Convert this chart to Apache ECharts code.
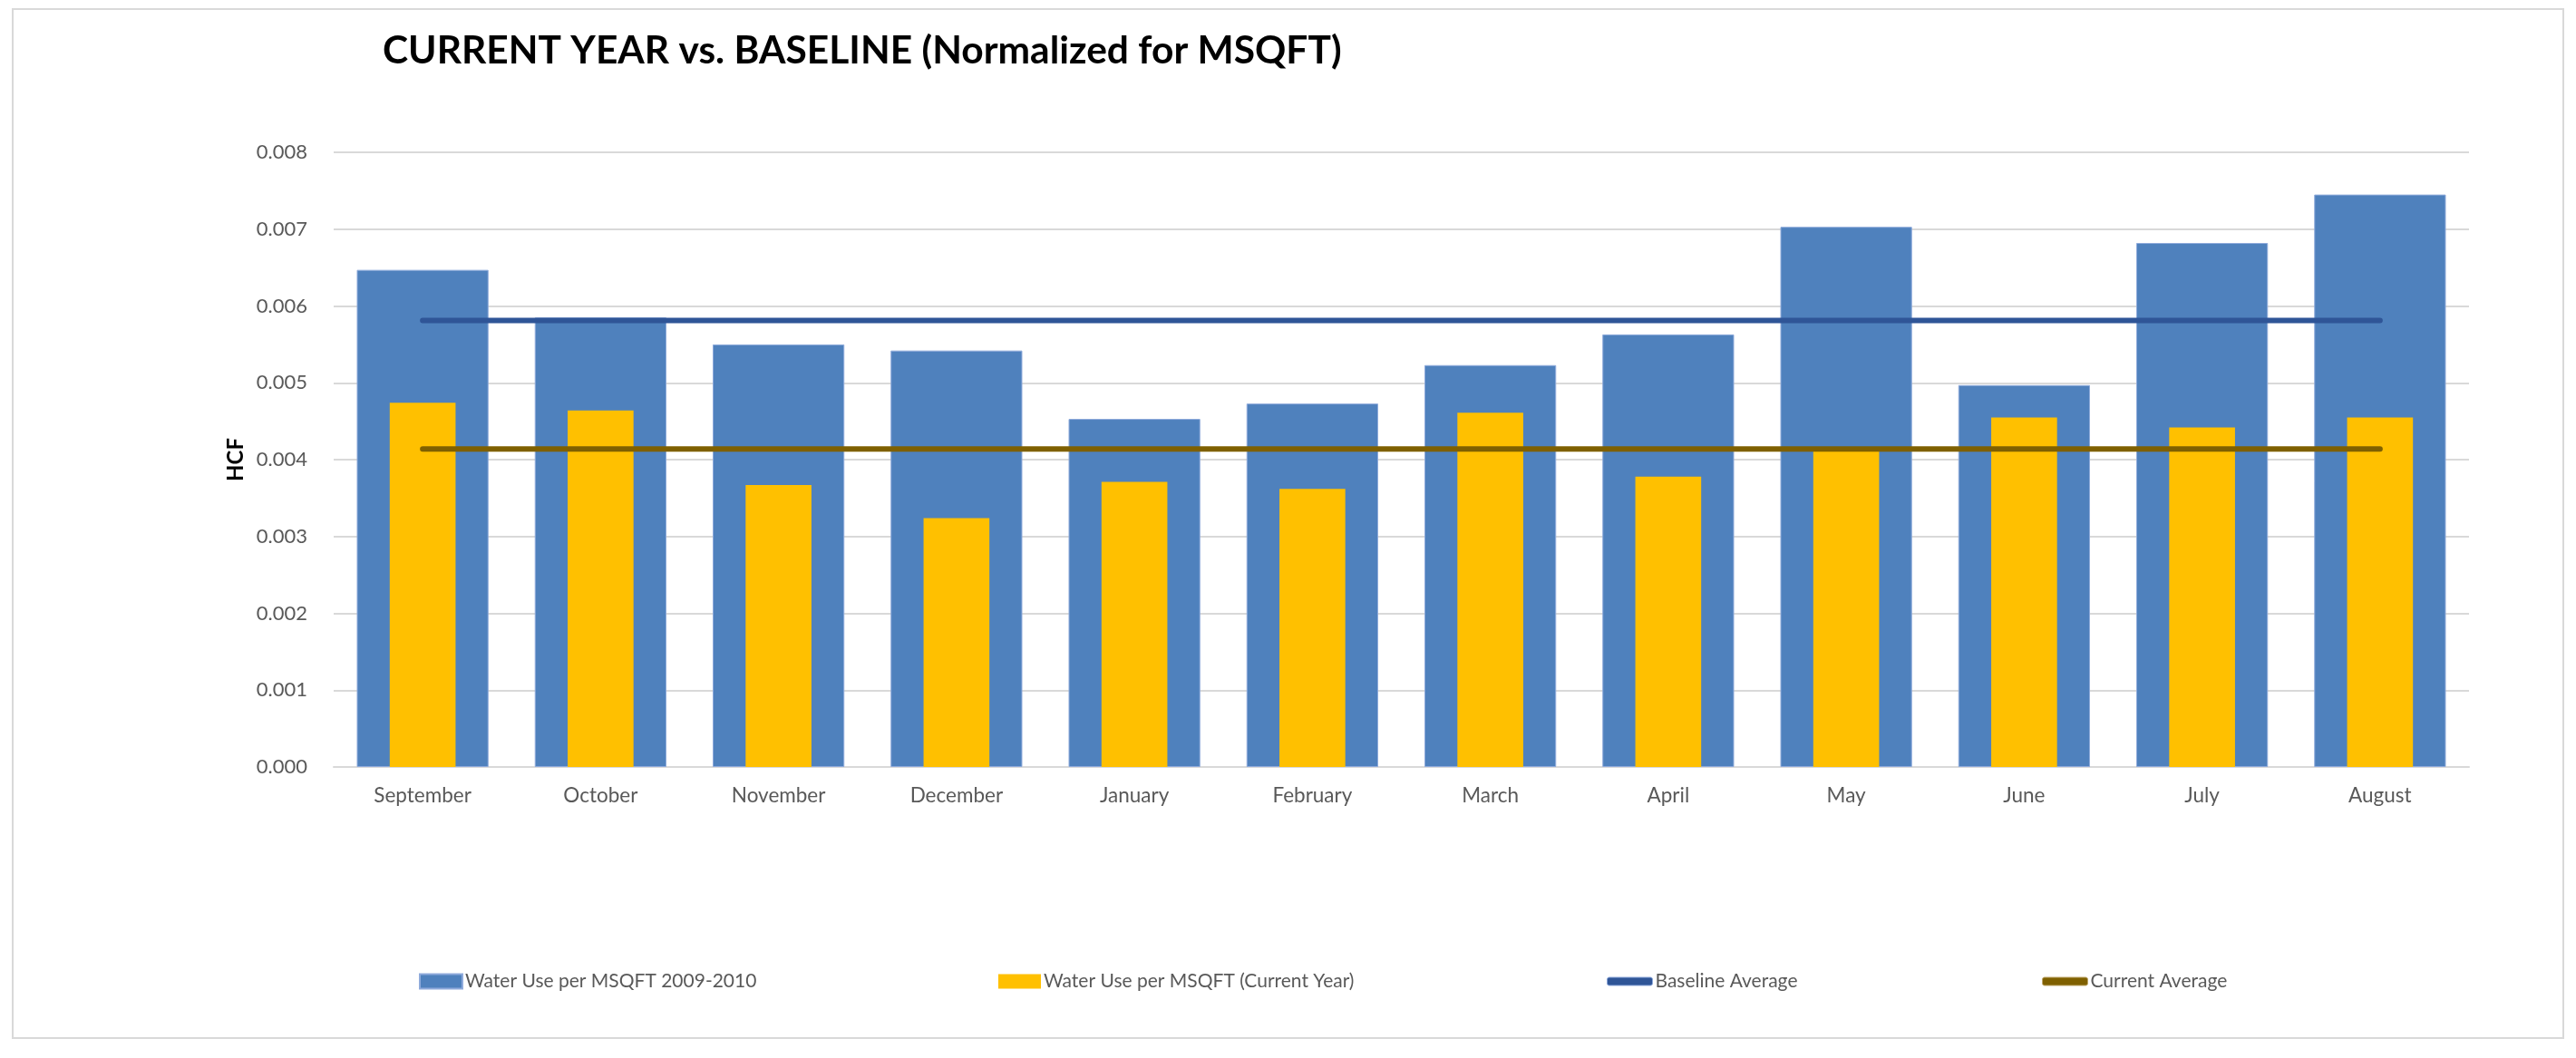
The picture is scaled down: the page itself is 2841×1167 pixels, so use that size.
<!DOCTYPE html>
<html>
<head>
<meta charset="utf-8">
<script src="https://cdn.jsdelivr.net/npm/echarts@6/dist/echarts.min.js"></script>
<style>
html,body{margin:0;padding:0;background:#fff;}
#chart{width:2841px;height:1167px;}
</style>
</head>
<body>
<div id="chart"></div>
<script>
const months = ['September','October','November','December','January','February','March','April','May','June','July','August'];
const baselineUse = [0.00647,0.00585,0.00550,0.00542,0.00453,0.00473,0.00523,0.00563,0.00703,0.00497,0.00682,0.00745];
const currentUse = [0.00474,0.00464,0.00367,0.00324,0.00371,0.00362,0.00461,0.00378,0.00411,0.00455,0.00442,0.00455];
const baselineAvg = [0.00581,0.00581,0.00581,0.00581,0.00581,0.00581,0.00581,0.00581,0.00581,0.00581,0.00581,0.00581];
const currentAvg = [0.00414,0.00414,0.00414,0.00414,0.00414,0.00414,0.00414,0.00414,0.00414,0.00414,0.00414,0.00414];
const yTicks = [0,0.001,0.002,0.003,0.004,0.005,0.006,0.007,0.008];

const seriesNames = ['Water Use per MSQFT 2009-2010','Water Use per MSQFT (Current Year)','Baseline Average','Current Average'];
const FONT = 'Lato';
const chart = echarts.init(document.getElementById('chart'), null, {renderer:'canvas'});
const legendLefts = [457, 1096, 1767, 2247];
const legendStyle = {color:'#595959', fontFamily:FONT, fontSize:21, padding:[0,0,0,-2]};

chart.setOption({
  animation:false,
  backgroundColor:'#ffffff',
  title:{
    text:'CURRENT YEAR vs. BASELINE (Normalized for MSQFT)',
    left:417, top:30,
    textStyle:{fontFamily:FONT, fontWeight:'bold', fontSize:42.5, color:'#000000'}
  },
  graphic:[{
    type:'rect', shape:{x:14,y:10,width:2813,height:1135},
    style:{fill:null, stroke:'#D9D9D9', lineWidth:2}, silent:true, z:-1
  }],
  legend: seriesNames.map((n,i)=>({
    data:[ i<2 ? {name:n, icon:'rect'} : {name:n, icon:'roundRect', itemStyle:{borderColor: i===2 ? '#8EA9DB' : '#BFA76A', borderWidth:1}} ],
    left:legendLefts[i], top:1067,
    itemWidth: i<2 ? 47 : 50, itemHeight: i<2 ? 16 : 9, itemGap:0,
    textStyle:legendStyle, selectedMode:false
  })),
  grid:{left:368, right:118, top:168, bottom:321, containLabel:false},
  xAxis:[{
    type:'category', data:months,
    axisLine:{lineStyle:{color:'#D9D9D9', width:2}},
    axisTick:{show:false},
    axisLabel:{color:'#595959', fontFamily:FONT, fontSize:22.5, margin:20, interval:0}
  },{
    type:'category', data:months, show:false
  }],
  yAxis:{
    type:'value', min:yTicks[0], max:yTicks[yTicks.length-1], interval:0.001,
    name:'HCF', nameLocation:'middle', nameGap:92,
    nameTextStyle:{fontFamily:FONT, fontWeight:'bold', fontSize:24, color:'#000000'},
    axisLine:{show:false}, axisTick:{show:false},
    axisLabel:{color:'#595959', fontFamily:FONT, fontSize:22, margin:29, formatter:v=>v.toFixed(3)},
    splitLine:{lineStyle:{color:'#D9D9D9', width:2}}
  },
  series:[
    {name:seriesNames[0], type:'bar', xAxisIndex:0, data:baselineUse, barWidth:'74%',
     itemStyle:{color:'#4F81BD', borderColor:'#8EAADB', borderWidth:1}, z:2},
    {name:seriesNames[1], type:'bar', xAxisIndex:1, data:currentUse, barWidth:'37%',
     itemStyle:{color:'#FFC000'}, z:3},
    {name:seriesNames[2], type:'line', data:baselineAvg, symbol:'none',
     lineStyle:{color:'#2F5597', width:6, cap:'round'}, itemStyle:{color:'#2F5597'}, z:5},
    {name:seriesNames[3], type:'line', data:currentAvg, symbol:'none',
     lineStyle:{color:'#7F6000', width:6, cap:'round'}, itemStyle:{color:'#7F6000'}, z:5}
  ]
});
</script>
</body>
</html>
